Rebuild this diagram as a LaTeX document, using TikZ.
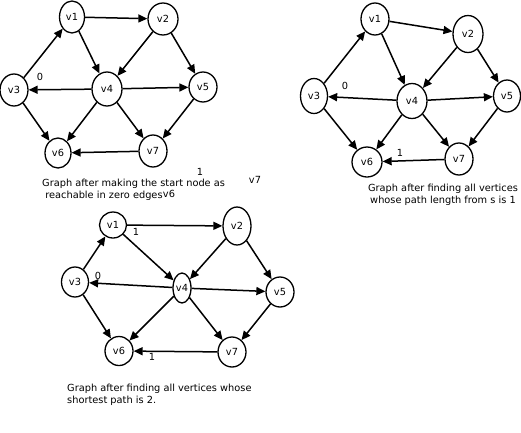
\documentclass[tikz,border=0pt]{standalone}
\usepackage{fontspec}
\setmainfont{DejaVu Sans}
\usetikzlibrary{arrows.meta,shapes.geometric}

\begin{document}
\begin{tikzpicture}[
    x=1pt, y=-1pt,
    font=\fontsize{9.8}{12}\selectfont,
    vert/.style={ellipse, draw=black, line width=1.3pt, inner sep=0pt, minimum width=28pt, minimum height=32pt},
    arrow/.style={-{Triangle[length=9pt, width=8pt]}, line width=1.5pt},
    caption/.style={align=left, anchor=north west, inner sep=0pt}
]
    \useasboundingbox (0,0) rectangle (521,432);

    % graph after step 0
    \node[vert, minimum width=25pt] (av1) at (72,17) {v1};
    \node[vert, minimum width=30pt] (av2) at (163,19) {v2};
    \node[vert] (av3) at (14,90) {v3};
    \node[vert, minimum width=30pt, minimum height=34pt] (av4) at (107,89) {v4};
    \node[vert, minimum height=30pt] (av5) at (203,87) {v5};
    \node[vert, minimum width=26pt, minimum height=30pt] (av6) at (58,153) {v6};
    \node[vert] (av7) at (153,151) {v7};
    \node at (40,77) {0};

    % graph after step 1
    \node[vert] (bv1) at (375,19) {v1};
    \node[vert, minimum width=30pt, minimum height=37pt] (bv2) at (468,34) {v2};
    \node[vert, minimum width=27pt, minimum height=35pt] (bv3) at (314,96) {v3};
    \node[vert, minimum width=30pt, minimum height=35pt] (bv4) at (412,101) {v4};
    \node[vert, minimum width=27pt] (bv5) at (507,96) {v5};
    \node[vert, minimum width=30pt, minimum height=30pt] (bv6) at (367,162) {v6};
    \node[vert] (bv7) at (459,159) {v7};
    \node at (345,86) {0};
    \node at (400,153) {1};

    % graph after step 2
    \node[vert, minimum width=27pt, minimum height=26pt] (cv1) at (113,225) {v1};
    \node[vert, minimum height=38pt] (cv2) at (237,226) {v2};
    \node[vert, minimum width=27pt, minimum height=30pt] (cv3) at (75,282) {v3};
    \node[vert, minimum width=18pt, minimum height=30pt] (cv4) at (182,288) {v4};
    \node[vert, minimum height=30pt] (cv5) at (280,292) {v5};
    \node[vert, minimum height=29pt] (cv6) at (119,351) {v6};
    \node[vert, minimum height=30pt] (cv7) at (232,352) {v7};
    \node at (136,232) {1};
    \node at (98,276) {0};
    \node at (152,357) {1};

    \foreach \g in {a,b,c} {
        \draw[arrow] (\g v1) -- (\g v2);
        \draw[arrow] (\g v1) -- (\g v4);
        \draw[arrow] (\g v2) -- (\g v4);
        \draw[arrow] (\g v2) -- (\g v5);
        \draw[arrow] (\g v3) -- (\g v1);
        \draw[arrow] (\g v3) -- (\g v6);
        \draw[arrow] (\g v4) -- (\g v3);
        \draw[arrow] (\g v4) -- (\g v5);
        \draw[arrow] (\g v4) -- (\g v6);
        \draw[arrow] (\g v4) -- (\g v7);
        \draw[arrow] (\g v5) -- (\g v7);
        \draw[arrow] (\g v7) -- (\g v6);
    }

    % loose labels
    \node at (200,172) {1};
    \node at (255,180) {v7};
    \node at (169,194) {v6};

    % captions
    \node[caption] (capa) at (42,179) {Graph after making the start node as\\\ reachable in zero edges};
    \node[caption, align=center, anchor=north] (capb) at (443,184) {Graph after finding all vertices\\whose path length from s is 1};
    \node[caption] (capc) at (67,384) {Graph after finding all vertices whose\\shortest path is 2.};
\end{tikzpicture}
\end{document}
